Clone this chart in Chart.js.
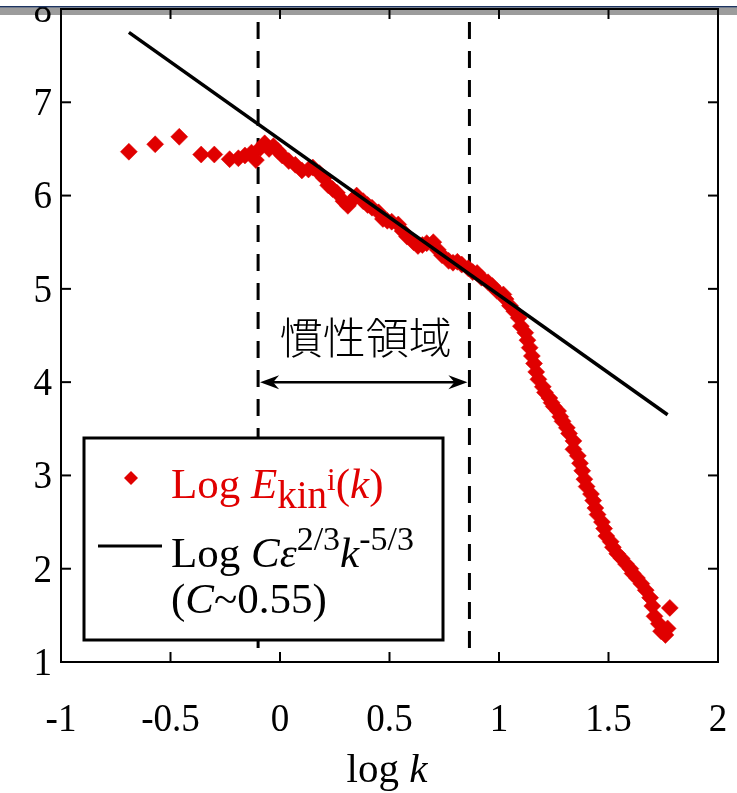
<!DOCTYPE html>
<html><head><meta charset="utf-8">
<script src="https://cdn.jsdelivr.net/npm/chart.js@4.4.1/dist/chart.umd.min.js"></script>
<style>html,body{margin:0;padding:0;background:#fff;overflow:hidden}#wrap{width:737px;height:793px;position:relative}</style>
</head><body><div id="wrap"><canvas id="c" width="737" height="793"></canvas></div>
<script>
// ---- data ----
const logK = [-0.69,-0.57,-0.46,-0.36,-0.30,-0.23,-0.19,-0.16,-0.13,-0.11,-0.09,-0.07,-0.05,-0.03,-0.01,
  0.01,0.04,0.07,0.10,0.13,0.15,0.18,0.20,0.22,0.24,0.26,0.29,0.31,0.33,0.35,0.38,0.40,0.42,0.45,0.47,
  0.49,0.51,0.54,0.56,0.58,0.61,0.63,0.65,0.67,0.70,0.72,0.74,0.77,0.79,0.81,0.83,0.86,0.88,0.90,0.92,
  0.95,0.97,0.99,1.02,1.03,1.05,1.07,1.09,1.10,1.12,1.13,1.14,1.15,1.16,1.17,1.18,1.20,1.21,1.23,1.24,
  1.25,1.27,1.28,1.29,1.31,1.32,1.34,1.34,1.36,1.37,1.38,1.39,1.40,1.42,1.43,1.44,1.45,1.47,1.48,1.49,
  1.51,1.52,1.54,1.56,1.58,1.60,1.61,1.63,1.65,1.67,1.69,1.70,1.78,1.71,1.73,1.74,1.76,1.77];
const logE = [6.47,6.55,6.63,6.44,6.44,6.39,6.40,6.43,6.46,6.38,6.51,6.56,6.50,6.53,6.48,
  6.43,6.37,6.33,6.27,6.28,6.30,6.24,6.19,6.11,6.07,6.03,5.94,5.89,5.95,6.00,5.94,5.90,5.87,5.82,5.75,
  5.73,5.72,5.69,5.62,5.56,5.50,5.46,5.47,5.49,5.50,5.42,5.36,5.30,5.28,5.29,5.26,5.22,5.18,5.17,5.12,
  5.07,5.03,4.98,4.94,4.89,4.82,4.76,4.69,4.60,4.53,4.45,4.37,4.28,4.20,4.11,4.03,3.95,3.89,3.83,3.78,
  3.74,3.69,3.63,3.58,3.51,3.45,3.37,3.28,3.21,3.13,3.05,2.96,2.88,2.80,2.73,2.65,2.58,2.50,2.43,2.35,
  2.29,2.23,2.16,2.11,2.05,2.00,1.95,1.90,1.84,1.77,1.69,1.60,1.58,1.49,1.41,1.33,1.29,1.36];
const fitLogK = [-0.69, 1.77];
const fitLogE = [7.75, 3.65];
const inertialBounds = [-0.1, 0.865];
const dashedRange = [1.15, 8];
const arrowLevel = 4;
const xTicks = [-1,-0.5,0,0.5,1,1.5,2];
const xTickLabels = ['-1','-0.5','0','0.5','1','1.5','2'];
const yTicks = [1,2,3,4,5,6,7,8];
const yTickLabels = ['1','2','3','4','5','6','7','8'];
const regionLabel = '慣性領域';

// ---- styling ----
const RED = '#e00000';
const SERIF = '"Liberation Serif", "Times New Roman", serif';
const FS = 39;      // tick label size
const LF = 43;      // legend text size

function txt(ctx, s, x, y, size, o) {
  o = o || {};
  const sx = o.sx || 1;
  ctx.save();
  ctx.font = (o.italic ? 'italic ' : '') + size + 'px ' + SERIF;
  ctx.fillStyle = o.color || '#000';
  ctx.textBaseline = 'alphabetic';
  ctx.textAlign = 'left';
  const w = ctx.measureText(s).width * sx;
  let x0 = x;
  if (o.align === 'center') x0 = x - w / 2; else if (o.align === 'right') x0 = x - w;
  ctx.translate(x0, y); ctx.scale(sx, 1); ctx.fillText(s, 0, 0);
  ctx.restore();
  return w;
}
function runs(ctx, x, parts) {
  let cx = x;
  parts.forEach(p => { cx += txt(ctx, p.t, cx, p.y, p.s, p); });
  return cx;
}
function seg(ctx, x1, y1, x2, y2) { ctx.beginPath(); ctx.moveTo(x1, y1); ctx.lineTo(x2, y2); ctx.stroke(); }

const decor = {
  id: 'decor',
  afterDraw(chart) {
    const {ctx, chartArea: a, scales: {x, y}} = chart;
    ctx.save();
    // frame + inward ticks
    ctx.strokeStyle = '#000'; ctx.lineWidth = 2; ctx.lineCap = 'butt';
    ctx.strokeRect(a.left, a.top, a.right - a.left, a.bottom - a.top);
    xTicks.forEach(v => { const p = x.getPixelForValue(v); seg(ctx, p, a.bottom, p, a.bottom - 10); seg(ctx, p, a.top, p, a.top + 10); });
    yTicks.forEach(v => { const p = y.getPixelForValue(v); seg(ctx, a.left, p, a.left + 10, p); seg(ctx, a.right, p, a.right - 10, p); });
    // tick labels
    yTicks.forEach((v, i) => { txt(ctx, yTickLabels[i], a.left - 9, y.getPixelForValue(v) + FS * 0.33, FS, {align: 'right', sx: 0.95}); });
    xTicks.forEach((v, i) => { txt(ctx, xTickLabels[i], x.getPixelForValue(v), 731, FS, {align: 'center', sx: 0.95}); });
    // axis title  "log k"
    {
      const TF = 41;
      ctx.font = TF + 'px ' + SERIF; const w1 = ctx.measureText('log ').width;
      ctx.font = 'italic ' + TF + 'px ' + SERIF; const w2 = ctx.measureText('k').width;
      const cx = 387 - (w1 + w2) / 2;
      runs(ctx, cx, [{t: 'log ', y: 782, s: TF}, {t: 'k', y: 782, s: TF, italic: true}]);
    }
    // region label and double arrow
    const xa = x.getPixelForValue(inertialBounds[0]), xb = x.getPixelForValue(inertialBounds[1]);
    const ya = y.getPixelForValue(arrowLevel);
    ctx.fillStyle = '#000';
    ctx.font = '300 43px "Noto Sans CJK JP"';
    ctx.textAlign = 'center'; ctx.textBaseline = 'middle';
    ctx.fillText(regionLabel, (xa + xb) / 2 + 2, 338);
    ctx.lineWidth = 2.5;
    seg(ctx, xa + 8, ya, xb - 8, ya);
    const head = (tip, dir) => {
      ctx.beginPath(); ctx.moveTo(tip, ya); ctx.lineTo(tip + dir * 19, ya - 7); ctx.lineTo(tip + dir * 13, ya);
      ctx.lineTo(tip + dir * 19, ya + 7); ctx.closePath(); ctx.fill();
    };
    head(xa + 2, 1); head(xb - 2, -1);
    // legend box
    ctx.fillStyle = '#fff'; ctx.fillRect(84, 438, 359, 202);
    ctx.lineWidth = 3; ctx.strokeStyle = '#000'; ctx.strokeRect(84, 438, 359, 202);
    ctx.fillStyle = RED;
    ctx.beginPath(); ctx.moveTo(131 - 7, 478); ctx.lineTo(131, 471); ctx.lineTo(131 + 7, 478); ctx.lineTo(131, 485); ctx.closePath(); ctx.fill();
    runs(ctx, 171, [
      {t: 'Log ', y: 498, s: LF, color: RED}, {t: 'E', y: 498, s: LF, color: RED, italic: true},
      {t: 'kin', y: 508, s: 39, color: RED}, {t: 'i', y: 490, s: 31, color: RED},
      {t: '(', y: 498, s: LF, color: RED}, {t: 'k', y: 498, s: LF, color: RED, italic: true}, {t: ')', y: 498, s: LF, color: RED}
    ]);
    ctx.lineWidth = 3; ctx.strokeStyle = '#000'; seg(ctx, 98, 546, 162, 546);
    runs(ctx, 171, [
      {t: 'Log ', y: 567, s: LF}, {t: 'C\u03b5', y: 567, s: LF, italic: true},
      {t: '2/3', y: 550, s: 34}, {t: 'k', y: 567, s: LF, italic: true}, {t: '-5/3', y: 550, s: 34}
    ]);
    runs(ctx, 171, [
      {t: '(', y: 613, s: LF}, {t: 'C', y: 613, s: LF, italic: true}, {t: '~0.55)', y: 613, s: LF}
    ]);
    // window chrome band at the top of the screenshot
    ctx.fillStyle = '#fff'; ctx.fillRect(0, 0, 737, 6);
    ctx.fillStyle = '#1d3461'; ctx.fillRect(0, 6, 737, 1.5);
    ctx.globalCompositeOperation = 'multiply';
    ctx.fillStyle = '#9c9c9c'; ctx.fillRect(0, 7.5, 737, 7.5);
    ctx.restore();
  }
};

new Chart(document.getElementById('c'), {
  type: 'scatter',
  data: {
    datasets: [
      {label: 'Log Ekin', data: logK.map((v, i) => ({x: v, y: logE[i]})), pointStyle: 'rectRot',
       pointRadius: 8.5, backgroundColor: RED, borderColor: RED, borderWidth: 0.5, order: 2},
      {label: 'fit', data: fitLogK.map((v, i) => ({x: v, y: fitLogE[i]})), showLine: true, pointRadius: 0,
       borderColor: '#000', borderWidth: 3.5, order: 1},
      {label: 'lo', data: dashedRange.map(v => ({x: inertialBounds[0], y: v})), showLine: true, pointRadius: 0,
       borderColor: '#000', borderWidth: 3, borderDash: [17, 12], order: 3},
      {label: 'hi', data: dashedRange.map(v => ({x: inertialBounds[1], y: v})), showLine: true, pointRadius: 0,
       borderColor: '#000', borderWidth: 3, borderDash: [17, 12], order: 3}
    ]
  },
  options: {
    responsive: false, animation: false, devicePixelRatio: 1,
    layout: {padding: {top: 4, right: 19, left: 0, bottom: 0}},
    plugins: {legend: {display: false}, tooltip: {enabled: false}},
    scales: {
      x: {type: 'linear', min: -1, max: 2, ticks: {display: false}, grid: {display: false, drawTicks: false}, border: {display: false},
          afterFit(s) { s.height = 131; }},
      y: {type: 'linear', min: 1, max: 8, ticks: {display: false}, grid: {display: false, drawTicks: false}, border: {display: false},
          afterFit(s) { s.width = 61; }}
    }
  },
  plugins: [decor]
});
</script></body></html>
